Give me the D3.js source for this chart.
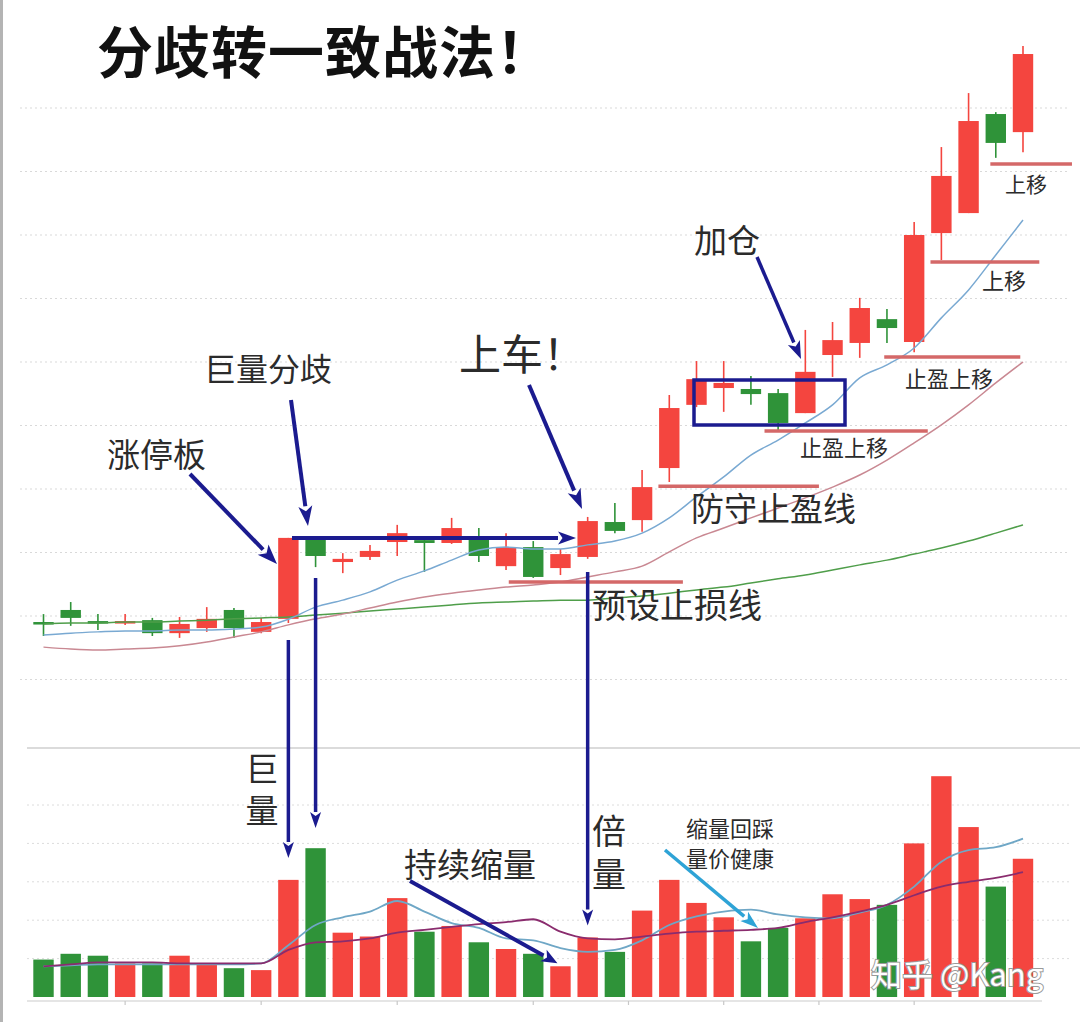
<!DOCTYPE html>
<html>
<head>
<meta charset="utf-8">
<script src="https://cdn.jsdelivr.net/npm/d3@7"></script>
<style>
  body { margin: 0; background: #fff; }
  svg { display: block; font-family: "Noto Sans CJK SC", "Noto Sans", sans-serif; }
</style>
</head>
<body>
<svg id="chart" width="1080" height="1022"></svg>
<script>
// --- data ---
const opens  = [11.81,12.19,11.84,11.81,11.87,11.46,11.62,12.19,11.50,11.91,14.46,13.70,13.86,14.33,14.39,14.30,14.49,13.57,14.17,13.51,13.86,14.96,15.02,16.66,18.65,19.18,19.15,19.02,18.39,20.22,20.60,21.35,20.63,24.06,24.69,27.81,27.24];
const closes = [11.75,11.94,11.78,11.84,11.46,11.75,11.91,11.62,11.81,14.46,13.89,13.80,14.05,14.61,14.30,14.77,13.89,14.17,13.23,13.95,14.99,14.68,16.06,18.55,19.46,19.34,18.99,18.08,19.69,20.69,21.70,21.07,24.00,25.86,27.59,26.90,29.70];
const highs  = [12.06,12.44,12.06,12.06,11.94,11.97,12.28,12.25,11.94,14.46,14.46,13.98,14.24,14.87,14.49,15.09,14.77,14.61,14.36,14.11,15.12,15.56,16.60,18.96,20.03,20.03,19.56,19.15,21.01,21.26,22.02,21.67,24.41,26.77,28.47,27.87,29.95];
const lows   = [11.37,11.69,11.56,11.72,11.37,11.31,11.50,11.31,11.46,11.78,13.54,13.35,13.76,13.89,13.39,14.27,13.70,13.45,13.20,13.29,13.80,14.61,14.65,16.22,18.58,18.43,18.65,17.86,18.39,19.53,20.13,20.60,20.31,23.21,24.69,26.43,26.61];
const volumes = [39,45,43,35,35,43,34,30,28,122,155,67,63,103,68,74,57,50,45,32,62,47,90,122,98,83,58,72,82,107,102,96,160,230,177,115,144];

const ma5  = [11.40,11.46,11.50,11.53,11.53,11.56,11.56,11.59,11.65,11.90,12.28,12.50,12.76,13.13,13.42,13.76,14.08,14.17,14.11,14.11,14.24,14.36,14.61,15.09,15.75,16.38,17.07,17.54,18.08,18.65,19.50,19.91,20.44,21.39,22.27,23.37,24.47];
const ma10 = [11.02,10.96,10.93,10.96,10.99,11.06,11.18,11.34,11.50,11.72,11.91,12.06,12.25,12.44,12.60,12.72,12.82,12.91,12.98,13.07,13.23,13.39,13.57,14.02,14.46,14.77,15.09,15.40,15.72,16.06,16.44,16.91,17.45,18.02,18.65,19.34,20.00];
const ma30 = [11.75,11.78,11.78,11.81,11.81,11.84,11.87,11.91,11.94,11.97,12.03,12.09,12.16,12.22,12.28,12.35,12.41,12.44,12.47,12.50,12.50,12.57,12.63,12.72,12.82,12.91,13.04,13.17,13.29,13.45,13.61,13.76,13.95,14.14,14.36,14.61,14.87];
const volMa5  = [32,33,34,34,34,34,34,34,35,54,75,83,89,100,89,77,72,61,59,51,47,49,59,75,84,89,91,86,83,82,88,96,115,141,153,156,165];
const volMa10 = [32,34,36,36,36,35,35,35,35,49,57,58,61,67,70,73,76,78,81,68,61,60,63,66,68,69,70,72,78,83,89,96,106,115,120,124,130];

const priceTicks = [10,12,14,16,18,20,22,24,26,28];
const volTicks = [40,80,120,160,200];
const dateTicks = [3,8,13,18,21.5,25,28.5,32];

// horizontal stop lines: price level, first and last candle index covered
const levelPrices = [13.07,16.09,17.83,20.16,23.15,26.24];
const levelFrom   = [17.1,22.6,26.5,30.9,32.6,34.8];
const levelTo     = [23.5,28.5,32.5,35.9,36.6,37.8];

const RED = "#f4453f", GREEN = "#2f9339", NAVY = "#1b1b8f", TXT = "#2b2b2b";

const svg = d3.select("#chart");
const idx = d3.range(opens.length);
const x = d3.scaleBand().domain(idx).range([26.5, 1040]).padding(0.25);
const xi = i => x(0) + x.bandwidth() / 2 + i * x.step();
const y = d3.scaleLinear().domain([10, 28]).range([679.5, 108]);
const v = d3.scaleLinear().domain([0, 200]).range([997, 805]);
const up = i => closes[i] >= opens[i];

// frame & grids
svg.append("rect").attr("width", 1080).attr("height", 1022).attr("fill", "#fff");
svg.append("line").attr("x1", 1.5).attr("x2", 1.5).attr("y1", 0).attr("y2", 1022).attr("stroke", "#b4b4b4").attr("stroke-width", 3);

svg.append("g").selectAll("line").data(priceTicks).join("line")
  .attr("x1", 20).attr("x2", 1070).attr("y1", d => y(d)).attr("y2", d => y(d))
  .attr("stroke", "#d9d9d9").attr("stroke-width", 1).attr("stroke-dasharray", "2,3");
svg.append("g").selectAll("line").data(volTicks).join("line")
  .attr("x1", 27).attr("x2", 1070).attr("y1", d => v(d)).attr("y2", d => v(d))
  .attr("stroke", "#dcdcdc").attr("stroke-width", 1).attr("stroke-dasharray", "2,3");

svg.append("line").attr("x1", 27).attr("x2", 1080).attr("y1", 748).attr("y2", 748).attr("stroke", "#cfcfcf").attr("stroke-width", 1.5);
svg.append("line").attr("x1", 27).attr("x2", 1042).attr("y1", 1001).attr("y2", 1001).attr("stroke", "#dddddd").attr("stroke-width", 1.5);
svg.append("g").selectAll("line").data(dateTicks).join("line")
  .attr("x1", d => xi(d)).attr("x2", d => xi(d)).attr("y1", 1001).attr("y2", 1005)
  .attr("stroke", "#c8c8c8").attr("stroke-width", 1.2);

// candles
const cg = svg.append("g");
cg.selectAll("line").data(idx).join("line")
  .attr("x1", i => xi(i)).attr("x2", i => xi(i))
  .attr("y1", i => y(highs[i])).attr("y2", i => y(lows[i]))
  .attr("stroke", i => up(i) ? RED : GREEN).attr("stroke-width", 1.6);
cg.selectAll("rect").data(idx).join("rect")
  .attr("x", i => x(i)).attr("width", x.bandwidth())
  .attr("y", i => y(Math.max(opens[i], closes[i])))
  .attr("height", i => Math.max(2.5, Math.abs(y(opens[i]) - y(closes[i]))))
  .attr("fill", i => up(i) ? RED : GREEN);

// moving averages
const priceLine = d3.line().x((d, i) => xi(i)).y(d => y(d)).curve(d3.curveMonotoneX);
[[ma30, "#4f9e4a"], [ma10, "#c98892"], [ma5, "#79a9d2"]].forEach(([s, c]) => {
  svg.append("path").datum(s).attr("d", priceLine).attr("fill", "none").attr("stroke", c).attr("stroke-width", 1.5);
});

// volume bars
svg.append("g").selectAll("rect").data(idx).join("rect")
  .attr("x", i => x(i)).attr("width", x.bandwidth())
  .attr("y", i => v(volumes[i])).attr("height", i => v(0) - v(volumes[i]))
  .attr("fill", i => up(i) ? RED : GREEN);
const volLine = d3.line().x((d, i) => xi(i)).y(d => v(d)).curve(d3.curveMonotoneX);
svg.append("path").datum(volMa5).attr("d", volLine).attr("fill", "none").attr("stroke", "#6fa7c6").attr("stroke-width", 1.8);
svg.append("path").datum(volMa10).attr("d", volLine).attr("fill", "none").attr("stroke", "#8a2c6e").attr("stroke-width", 1.8);

// stop lines
svg.append("g").selectAll("line").data(levelPrices).join("line")
  .attr("x1", (d, k) => xi(levelFrom[k])).attr("x2", (d, k) => xi(levelTo[k]))
  .attr("y1", d => y(d)).attr("y2", d => y(d))
  .attr("stroke", "#d46868").attr("stroke-width", 3.5);

// annotations
const ann = svg.append("g");
function arrow(x1, y1, x2, y2, color, w, hl, hw) {
  const a = Math.atan2(y2 - y1, x2 - x1);
  const bx = x2 - hl * Math.cos(a), by = y2 - hl * Math.sin(a);
  ann.append("line").attr("x1", x1).attr("y1", y1).attr("x2", bx).attr("y2", by)
    .attr("stroke", color).attr("stroke-width", w);
  const px = -Math.sin(a) * hw / 2, py = Math.cos(a) * hw / 2;
  ann.append("path").attr("d", `M${x2},${y2}L${bx + px},${by + py}L${bx + 0.25 * hl * Math.cos(a)},${by + 0.25 * hl * Math.sin(a)}L${bx - px},${by - py}Z`).attr("fill", color);
}
function label(t, tx, ty, size, anchor) {
  ann.append("text").attr("x", tx).attr("y", ty).attr("font-size", size)
    .attr("text-anchor", anchor || "start").attr("fill", TXT).text(t);
}
// vertical label, one text element written top to bottom
function vlabel(t, tx, ty, size, spacing) {
  ann.append("text").attr("x", tx).attr("y", ty).attr("font-size", size)
    .attr("writing-mode", "vertical-rl").attr("letter-spacing", spacing)
    .attr("fill", TXT).text(t);
}

svg.append("text").attr("x", 97).attr("y", 73).attr("font-size", 56).attr("font-weight", 700)
  .attr("letter-spacing", 1).attr("fill", "#111").text("分歧转一致战法！");

label("涨停板", 107, 467, 33);
arrow(190, 474, 277, 564, NAVY, 4, 20, 15);
label("巨量分歧", 204, 381, 32);
arrow(291, 400, 308, 526, NAVY, 4, 20, 14);
arrow(292, y(highs[10]), 576, y(highs[10]), NAVY, 4, 18, 13);
label("上车！", 459, 370, 42);
arrow(529, 385, 582, 509, NAVY, 4, 20, 14);
label("加仓", 694, 253, 33);
arrow(757, 257, 801, 359, NAVY, 3.5, 18, 13);
ann.append("rect").attr("x", 694).attr("y", 380).attr("width", 151).attr("height", 45)
  .attr("fill", "none").attr("stroke", NAVY).attr("stroke-width", 3.5);

arrow(xi(9), 640, xi(9), 858, NAVY, 3.5, 16, 11);
arrow(xi(10), 578, xi(10), 828, NAVY, 3.5, 16, 11);
arrow(xi(20), 572, xi(20), v(volumes[20]) - 12, NAVY, 3.5, 16, 11);

vlabel("巨量", 262, 752, 33, 9);
vlabel("倍量", 609, 814, 34, 9);
label("持续缩量", 404, 877, 33);
arrow(410, 881, xi(19) - 3, v(volumes[19]) - 3, NAVY, 4, 16, 13);
label("缩量回踩", 686, 837, 22);
label("量价健康", 686, 867, 22);
arrow(665, 850, 758, 928, "#2ea3d6", 3.5, 18, 12);

label("预设止损线", 592, 618, 34);
label("防守止盈线", 691, 521, 33);
label("止盈上移", 800, 456, 22);
label("止盈上移", 905, 387, 22);
label("上移", 982, 289, 22);
label("上移", 1005, 192, 21);

svg.append("text").attr("x", 871).attr("y", 986).attr("font-size", 31)
  .attr("fill", "#fff").attr("stroke", "#9a9a9a").attr("stroke-width", 2)
  .attr("paint-order", "stroke").text("知乎 @Kang");
</script>
</body>
</html>
